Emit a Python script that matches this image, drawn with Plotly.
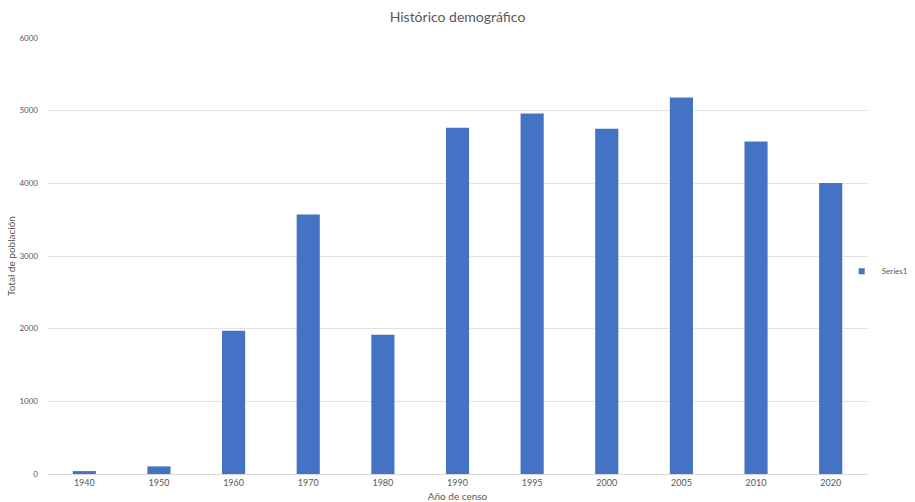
import plotly.graph_objects as go

# Census years and total population
years = ["1940", "1950", "1960", "1970", "1980", "1990", "1995", "2000", "2005", "2010", "2020"]
population = [40, 105, 1970, 3570, 1915, 4765, 4960, 4750, 5180, 4575, 4005]
y_ticks = [0, 1000, 2000, 3000, 4000, 5000, 6000]

FONT = "Lato, Carlito, 'Open Sans', sans-serif"
TEXT = "#595959"
BAR = "#4472C4"

fig = go.Figure()
fig.add_trace(
    go.Bar(
        x=years,
        y=population,
        name="Series1",
        marker=dict(color=BAR, line=dict(width=0)),
        showlegend=False,
        legendgroup="s1",
    )
)
# Small square legend key for the series
fig.add_trace(
    go.Scatter(
        x=[None],
        y=[None],
        mode="markers",
        name="Series1",
        marker=dict(symbol="square", size=6, color=BAR),
        legendgroup="s1",
        showlegend=True,
    )
)

fig.update_layout(
    width=915,
    height=502,
    paper_bgcolor="white",
    plot_bgcolor="white",
    margin=dict(l=47, r=47, t=38, b=28, autoexpand=False),
    bargap=0.69,
    title=dict(
        text="Histórico demográfico",
        x=0.5,
        xanchor="center",
        y=0.965,
        yanchor="middle",
        font=dict(family=FONT, size=14, color=TEXT),
    ),
    legend=dict(
        x=0.968,
        xanchor="left",
        y=0.465,
        yanchor="middle",
        font=dict(family=FONT, size=8, color=TEXT),
        itemwidth=30,
        bgcolor="rgba(0,0,0,0)",
    ),
    font=dict(family=FONT, size=9, color=TEXT),
)

fig.update_xaxes(
    type="category",
    showgrid=False,
    showline=True,
    linecolor="#d9d9d9",
    linewidth=1,
    ticks="",
    tickfont=dict(family=FONT, size=9, color=TEXT),
    title=dict(text="Año de censo", font=dict(family=FONT, size=10, color=TEXT), standoff=6),
)

fig.update_yaxes(
    range=[0, 6000],
    tickvals=y_ticks,
    showgrid=True,
    gridcolor="#e3e3e3",
    gridwidth=1,
    zeroline=False,
    showline=False,
    ticks="",
    ticklabelstandoff=8,
    tickfont=dict(family=FONT, size=8, color=TEXT),
    title=dict(text="Total de población", font=dict(family=FONT, size=10, color=TEXT), standoff=1),
)

fig.write_html("out.html")
